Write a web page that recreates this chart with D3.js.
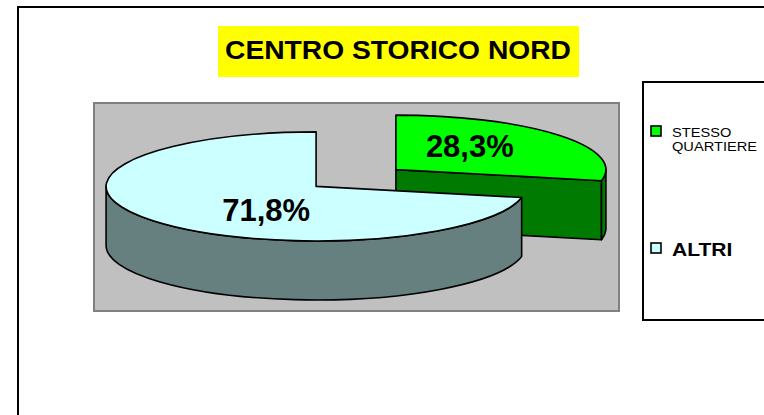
<!DOCTYPE html>
<html>
<head>
<meta charset="utf-8">
<script src="https://cdn.jsdelivr.net/npm/d3@7"></script>
<style>
  html, body { margin: 0; padding: 0; background: #fff; overflow: hidden; }
  svg { display: block; }
  text { font-family: Arial, "Liberation Sans", sans-serif; }
</style>
</head>
<body>
<script>
// chart data
var title = "CENTRO STORICO NORD";
var categories = ["STESSO QUARTIERE", "ALTRI"];
var values = [28.3, 71.8];
var topColors = ["#00FF00", "#CCFFFF"];
var sideColors = ["#007A00", "#668080"];

var width = 764, height = 415;

var svg = d3.select("body").append("svg")
    .attr("width", width)
    .attr("height", height);

// outer chart frame: only left and top edges are inside the picture
svg.append("path")
    .attr("d", "M18," + height + "V7H" + width)
    .attr("fill", "none")
    .attr("stroke", "#000").attr("stroke-width", 2);

// title
svg.append("rect")
    .attr("x", 218).attr("y", 26)
    .attr("width", 361).attr("height", 51)
    .attr("fill", "#FFFF00");
svg.append("text")
    .attr("x", 398).attr("y", 58.5)
    .attr("text-anchor", "middle")
    .attr("textLength", 346)
    .attr("lengthAdjust", "spacingAndGlyphs")
    .style("font-weight", "bold")
    .style("font-size", "25px")
    .text(title);

// plot area
svg.append("rect")
    .attr("x", 94).attr("y", 103)
    .attr("width", 525).attr("height", 208)
    .attr("fill", "#C0C0C0")
    .attr("stroke", "#808080").attr("stroke-width", 2);

// 3D pie geometry
var cx = 356, cy = 178, rx = 210, ry = 54.5, depth = 59, explode = 0.245;
var fmt = d3.formatLocale({decimal: ",", thousands: ".", grouping: [3], currency: ["", "€"]}).format(".1f");

var arcs = d3.pie().sort(null).value(function(d) { return d; })(values);
arcs.forEach(function(a, i) {
  a.i = i;
  a.mid = (a.startAngle + a.endAngle) / 2;
  a.c = [cx + explode * rx * Math.sin(a.mid), cy - explode * ry * Math.cos(a.mid)];
});

function pt(c, a, dy) {
  return [c[0] + rx * Math.sin(a), c[1] - ry * Math.cos(a) + (dy || 0)];
}

// back slices first
var order = arcs.slice().sort(function(a, b) { return a.c[1] - b.c[1]; });

var pie = svg.append("g")
    .attr("stroke", "#000")
    .attr("stroke-width", 1.6)
    .attr("stroke-linejoin", "round");

order.forEach(function(a) {
  var g = pie.append("g");
  var c = a.c, a0 = a.startAngle, a1 = a.endAngle;

  // radial cut faces that face the viewer
  [[a1, Math.sin(a1) > 0.001], [a0, Math.sin(a0) < -0.001]].forEach(function(f) {
    if (!f[1]) return;
    var p = pt(c, f[0]);
    g.append("path")
      .attr("d", "M" + c + "L" + p + "L" + [p[0], p[1] + depth] + "L" + [c[0], c[1] + depth] + "Z")
      .attr("fill", sideColors[a.i]);
  });

  // front part of the rim
  var s = Math.max(a0, Math.PI / 2), e = Math.min(a1, 3 * Math.PI / 2);
  if (s < e) {
    g.append("path")
      .attr("d", "M" + pt(c, s) +
                 "A" + rx + "," + ry + " 0 0 1 " + pt(c, e) +
                 "L" + pt(c, e, depth) +
                 "A" + rx + "," + ry + " 0 0 0 " + pt(c, s, depth) + "Z")
      .attr("fill", sideColors[a.i]);
  }

  // top face
  g.append("path")
    .attr("d", "M" + c + "L" + pt(c, a0) +
               "A" + rx + "," + ry + " 0 " + (a1 - a0 > Math.PI ? 1 : 0) + " 1 " + pt(c, a1) + "Z")
    .attr("fill", topColors[a.i]);
});

// data labels
svg.selectAll(".lbl")
  .data(arcs)
  .enter().append("text")
    .attr("class", "lbl")
    .attr("x", function(a) { return a.c[0] + 0.38 * rx * Math.sin(a.mid) + 12; })
    .attr("y", function(a) { return a.c[1] - 0.7 * ry * Math.cos(a.mid) + 11; })
    .attr("text-anchor", "middle")
    .style("font-weight", "bold")
    .style("font-size", "31px")
    .text(function(a) { return fmt(a.data) + "%"; });

// legend box: right edge lies outside the picture
svg.append("path")
    .attr("d", "M" + width + ",82H643V320H" + width)
    .attr("fill", "#fff")
    .attr("stroke", "#000").attr("stroke-width", 2);

var legendY = [131, 248];
var leg = svg.selectAll(".leg")
  .data(categories)
  .enter().append("g")
    .attr("class", "leg")
    .attr("transform", function(d, i) { return "translate(651," + legendY[i] + ")"; });

leg.append("rect")
    .attr("x", 0).attr("y", -5)
    .attr("width", 10).attr("height", 10)
    .attr("fill", function(d, i) { return topColors[i]; })
    .attr("stroke", "#000").attr("stroke-width", 1.6);

// legend labels are drawn a little wider than the plain font
leg.each(function(d, i) {
  var g = d3.select(this).append("g")
      .attr("transform", "translate(21,0) scale(1.17,1)");
  if (i === 0) {
    d.split(" ").forEach(function(w, k) {
      g.append("text")
        .attr("x", 0).attr("y", 6 + k * 14)
        .style("font-size", "12.5px")
        .text(w);
    });
  } else {
    g.append("text")
      .attr("x", 0).attr("y", 8)
      .style("font-weight", "bold")
      .style("font-size", "18px")
      .text(d);
  }
});
</script>
</body>
</html>
